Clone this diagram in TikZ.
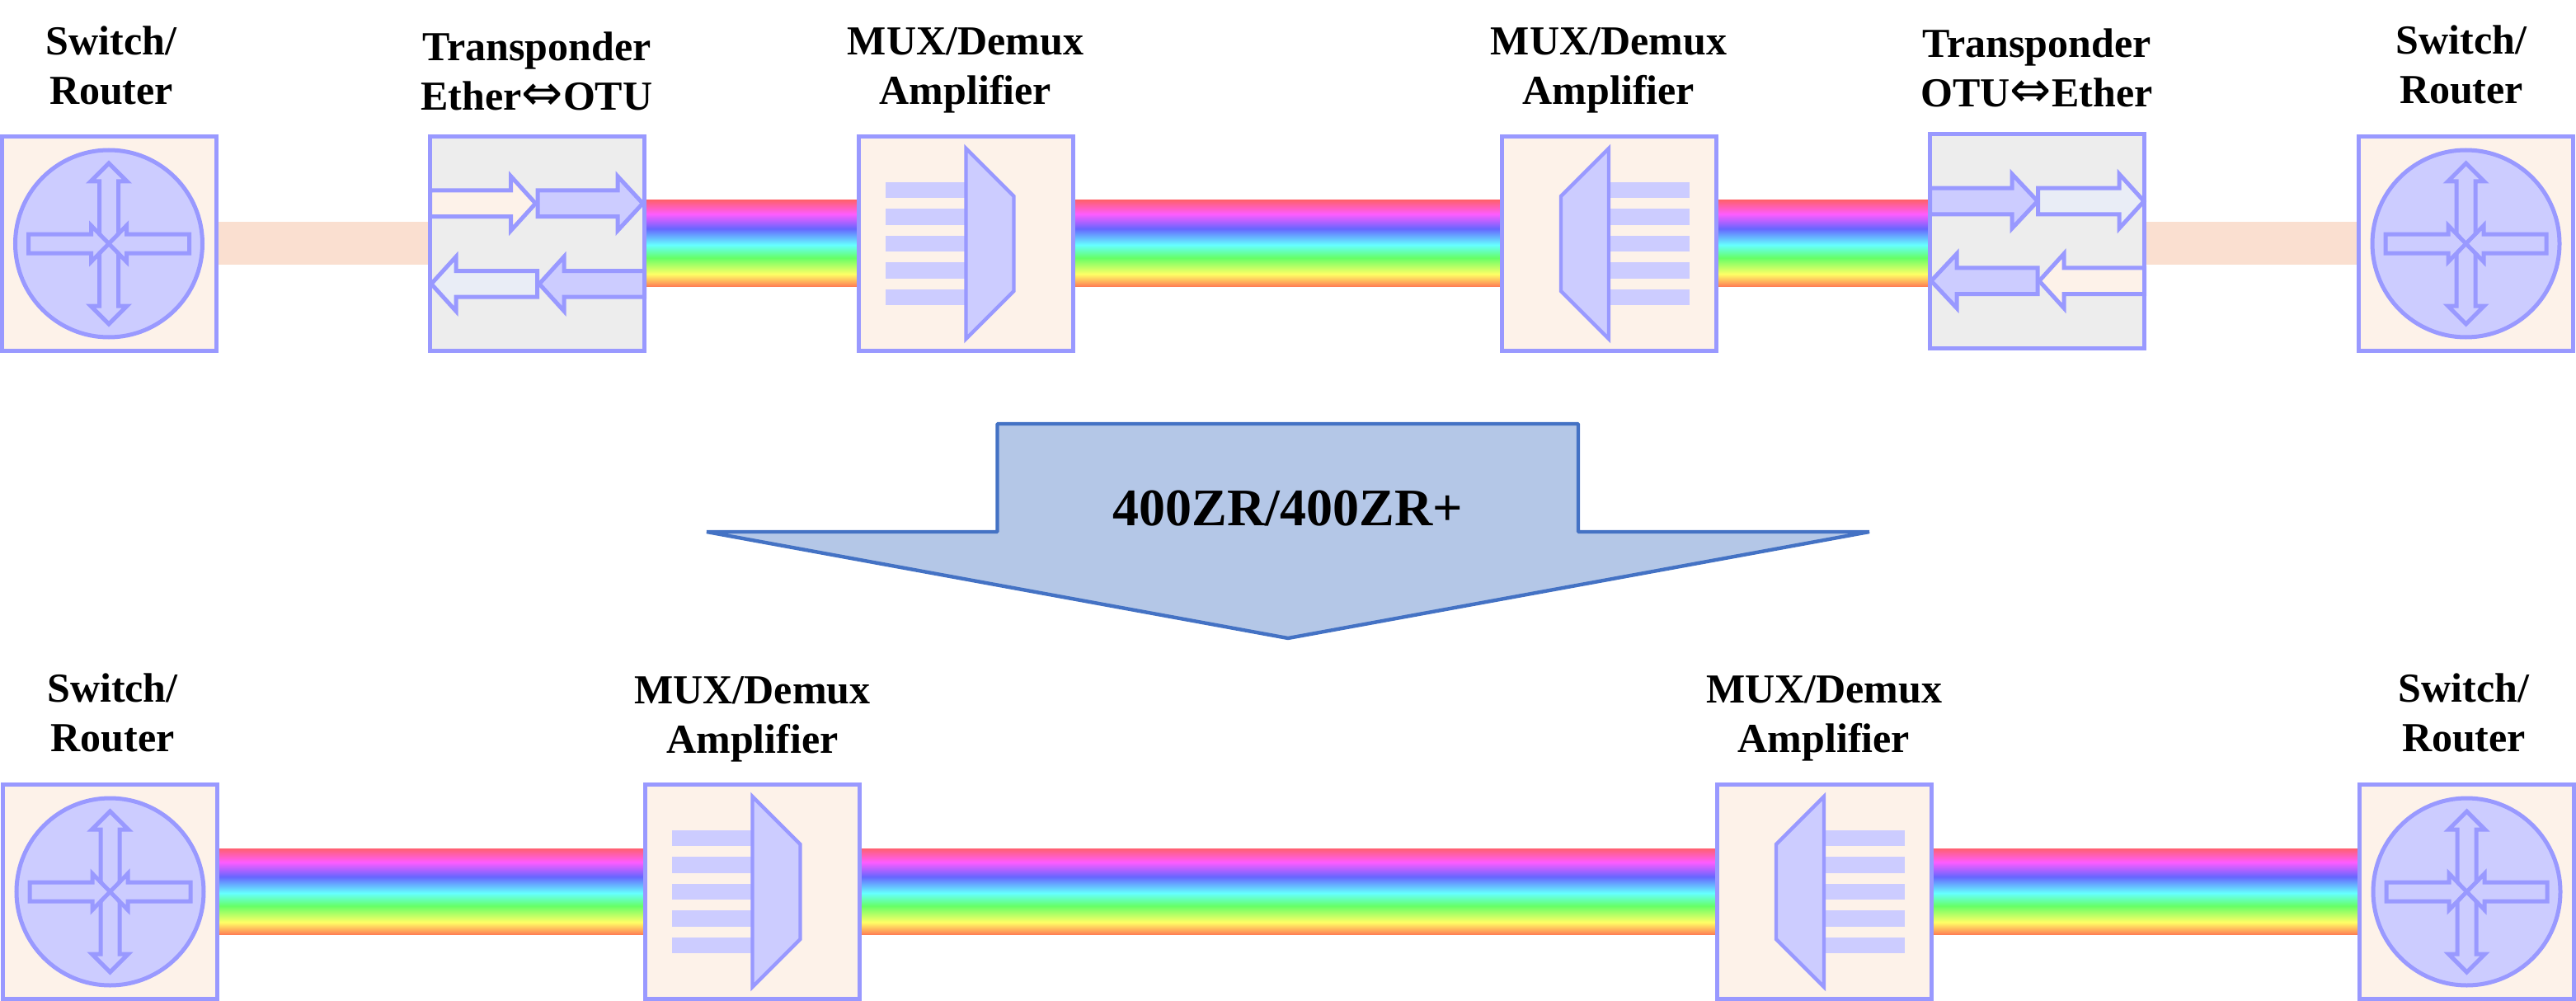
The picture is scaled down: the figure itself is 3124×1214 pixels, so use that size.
\documentclass[tikz,border=0pt]{standalone}
\usepackage{fontspec}
\setmainfont{Liberation Serif}
\newfontfamily\arrfont{DejaVu Sans}
\usetikzlibrary{calc,backgrounds}
\definecolor{edgeblue}{HTML}{9999FF}
\definecolor{iconfill}{HTML}{CCCCFF}
\definecolor{cream}{HTML}{FDF2E9}
\definecolor{greybox}{HTML}{EDEDED}
\definecolor{paleblue}{HTML}{E9EDF6}
\definecolor{peach}{HTML}{FADFD0}
\definecolor{bigfill}{HTML}{B4C7E7}
\definecolor{bigedge}{HTML}{4472C4}
\definecolor{rbRed}{HTML}{FF6070}
\definecolor{rbMag}{HTML}{FF5CFF}
\definecolor{rbBlue}{HTML}{6666FF}
\definecolor{rbCyan}{HTML}{66FFFF}
\definecolor{rbGreen}{HTML}{66FF66}
\definecolor{rbYellow}{HTML}{FFFF66}
\definecolor{rbOrange}{HTML}{FF8055}
\pgfdeclareverticalshading{rainbowband}{100bp}{
  color(0bp)=(rbOrange); color(25bp)=(rbOrange); color(32bp)=(rbYellow);
  color(41.5bp)=(rbGreen); color(49bp)=(rbCyan); color(58.5bp)=(rbBlue);
  color(67bp)=(rbMag); color(75bp)=(rbRed); color(100bp)=(rbRed)}
\tikzset{
  unit box/.style={draw=edgeblue,line width=2.5pt,minimum size=130pt,inner sep=0pt,outer sep=0pt,rectangle},
  cream box/.style={unit box,fill=cream},
  grey box/.style={unit box,fill=greybox},
  icon line/.style={draw=edgeblue,line width=2.5pt,fill=iconfill,miter limit=10},
  bar/.style={fill=iconfill,draw=none},
  heading/.style={font=\bfseries\fontsize{25}{30}\selectfont,align=center,anchor=base,inner sep=0pt,outer sep=0pt},
  routericon/.pic={
    \draw[icon line] (0,0) circle[radius=113.5];
    \draw[icon line] (0,-97.5) -- (22,-75.5) -- (11.5,-75.5) -- (11.5,75.5) -- (22,75.5) -- (0,97.5)
      -- (-22,75.5) -- (-11.5,75.5) -- (-11.5,-75.5) -- (-22,-75.5) -- cycle;
    \draw[icon line] (-97.5,-11.5) -- (-21.5,-11.5) -- (-21.5,-22) -- (0,0) -- (-21.5,22) -- (-21.5,11.5) -- (-97.5,11.5) -- cycle;
    \draw[icon line] (97.5,-11.5) -- (21.5,-11.5) -- (21.5,-22) -- (0,0) -- (21.5,22) -- (21.5,11.5) -- (97.5,11.5) -- cycle;
  },
  muxicon/.pic={
    \foreach \a/\b in {-74.5/-55.5,-42.5/-22.5,-9.5/9.5,22.5/42.5,55.5/74.5}
      \fill[bar] (-97.5,\a) rectangle (0,\b);
    \draw[icon line,line width=2.2pt] (0,-115.5) -- (58,-57.5) -- (58,57.5) -- (0,115.5) -- cycle;
  },
}
% thick block arrow: fill, blunt end x, head back x, tip x, centre y
\newcommand{\blockarrow}[5]{%
  \draw[icon line,fill=#1] (#2,#5-15.8) -- (#3,#5-15.8) -- (#3,#5-33) -- (#4,#5)
    -- (#3,#5+33) -- (#3,#5+15.8) -- (#2,#5+15.8) -- cycle;}
% band between two boxes: style, left node, right node, node giving the level, half height
\newcommand{\bandlink}[5]{%
  \path[#1] ($(#2.east |- #4.west)+(0,-#5-0.5)$) rectangle ($(#3.west |- #4.west)+(0,#5-0.5)$);}
\begin{document}
\begin{tikzpicture}[x=0.5pt,y=-0.5pt]
\useasboundingbox (0,0) rectangle (3124,1214);
% top row
\node[cream box] (r1) at (132,295.5) {};
\node[grey box]  (t1) at (651.5,295.5) {};
\node[cream box] (m1) at (1171.5,295.5) {};
\node[cream box] (m2) at (1951,295.5) {};
\node[grey box]  (t2) at (2470.5,292.5) {};
\node[cream box] (r2) at (2990.5,295.5) {};
% bottom row
\node[cream box] (r3) at (133.5,1081.5) {};
\node[cream box] (m3) at (912.5,1081.5) {};
\node[cream box] (m4) at (2212,1081.5) {};
\node[cream box] (r4) at (2991.5,1081.5) {};
% bands
\begin{scope}[on background layer]
  \bandlink{fill=peach}{r1}{t1}{r1}{26}
  \bandlink{fill=peach}{t2}{r2}{r2}{26}
  \bandlink{shade,shading=rainbowband}{t1}{m1}{m1}{52}
  \bandlink{shade,shading=rainbowband}{m1}{m2}{m1}{52}
  \bandlink{shade,shading=rainbowband}{m2}{t2}{m2}{52}
  \bandlink{shade,shading=rainbowband}{r3}{m3}{r3}{52}
  \bandlink{shade,shading=rainbowband}{m3}{m4}{r3}{52}
  \bandlink{shade,shading=rainbowband}{m4}{r4}{r3}{52}
\end{scope}
% icons
\pic at (r1.center) {routericon};
\pic at (r2.center) {routericon};
\pic at (r3.center) {routericon};
\pic at (r4.center) {routericon};
\pic at (m1.center) {muxicon};
\pic[xscale=-1] at (m2.center) {muxicon};
\pic at (m3.center) {muxicon};
\pic[xscale=-1] at (m4.center) {muxicon};
% transponder arrows, left
\blockarrow{cream}{521.5}{619.5}{649.5}{246.7}
\blockarrow{iconfill}{652}{749}{779.5}{246.7}
\blockarrow{iconfill}{781.5}{684}{654}{344.3}
\blockarrow{paleblue}{651.7}{553}{523}{344.3}
% transponder arrows, right
\blockarrow{iconfill}{2340.5}{2440}{2471}{244}
\blockarrow{paleblue}{2471.5}{2570}{2600}{244}
\blockarrow{cream}{2600.5}{2503}{2473}{340.7}
\blockarrow{iconfill}{2471}{2373}{2342}{340.7}
% big arrow
\draw[draw=bigedge,fill=bigfill,line width=2.2pt,line join=bevel] (1209.5,514) -- (1914,514) -- (1914,645) -- (2267,645) -- (1562,774) -- (857,645) -- (1209.5,645) -- cycle;
\node[font=\bfseries\fontsize{32}{38}\selectfont,anchor=base,inner sep=0pt] (zr) at (1562,637) {400ZR/400ZR+};
% labels
\node[heading] (l1) at (135,127) {Switch/\\Router};
\node[heading] (l2) at (651,133.5) {Transponder\\Ether{\arrfont\mdseries\fontsize{30}{30}\selectfont ⇔}OTU};
\node[heading] (l3) at (1171,127) {MUX/Demux\\Amplifier};
\node[heading] (l4) at (1951,127) {MUX/Demux\\Amplifier};
\node[heading] (l5) at (2470,130) {Transponder\\OTU{\arrfont\mdseries\fontsize{30}{30}\selectfont ⇔}Ether};
\node[heading] (l6) at (2985,126) {Switch/\\Router};
\node[heading] (l7) at (136.5,911.5) {Switch/\\Router};
\node[heading] (l8) at (912.5,913) {MUX/Demux\\Amplifier};
\node[heading] (l9) at (2212,912) {MUX/Demux\\Amplifier};
\node[heading] (l10) at (2988,911) {Switch/\\Router};
\end{tikzpicture}
\end{document}
